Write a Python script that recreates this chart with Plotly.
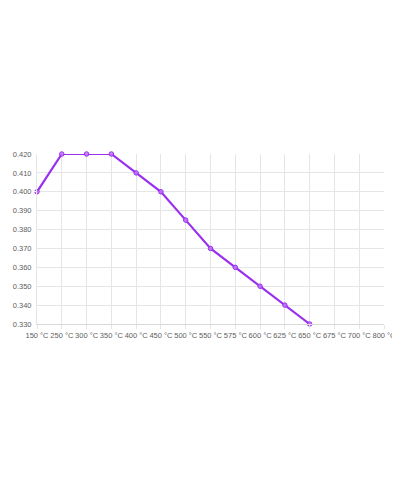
import plotly.graph_objects as go

categories = ["150 °C", "250 °C", "300 °C", "350 °C", "400 °C", "450 °C", "500 °C",
              "550 °C", "575 °C", "600 °C", "625 °C", "650 °C", "675 °C", "700 °C", "800 °C"]
values = [0.400, 0.420, 0.420, 0.420, 0.410, 0.400, 0.385,
          0.370, 0.360, 0.350, 0.340, 0.330, None, None, None]
y_ticks = [0.330, 0.340, 0.350, 0.360, 0.370, 0.380, 0.390, 0.400, 0.410, 0.420]

fig = go.Figure()
fig.add_trace(go.Scatter(
    x=categories, y=values, mode="lines+markers",
    line=dict(color="#9a2ff0", width=2.2),
    marker=dict(size=4.5, color="rgba(190,120,250,0.85)", line=dict(color="#9a2ff0", width=1)),
    connectgaps=False, showlegend=False, cliponaxis=False,
))

fig.update_layout(
    width=392, height=473,
    margin=dict(l=29, r=16, t=146, b=157),
    paper_bgcolor="rgba(0,0,0,0)", plot_bgcolor="white",
    font=dict(family="Liberation Sans, Arial, sans-serif", size=7.5, color="#5e5e5e"),
)
fig.update_xaxes(
    type="category", categoryorder="array", categoryarray=categories,
    range=[0, len(categories) - 1],
    showgrid=True, gridcolor="#e5e5e5", gridwidth=1,
    showline=True, linecolor="#d9d9d9", linewidth=1,
    ticks="outside", ticklen=4, tickcolor="#e5e5e5",
    tickfont=dict(size=7.5, color="#5e5e5e"), tickangle=0,
    zeroline=False, fixedrange=True, automargin=False,
)
fig.update_yaxes(
    range=[0.33, 0.42], tickvals=y_ticks, tickformat=".3f",
    showgrid=True, gridcolor="#e5e5e5", gridwidth=1,
    showline=True, linecolor="#e5e5e5", linewidth=1,
    ticks="outside", ticklen=3, tickcolor="white",
    tickfont=dict(size=7.5, color="#5e5e5e"),
    zeroline=False, fixedrange=True, automargin=False,
)

fig.write_html("out.html")
